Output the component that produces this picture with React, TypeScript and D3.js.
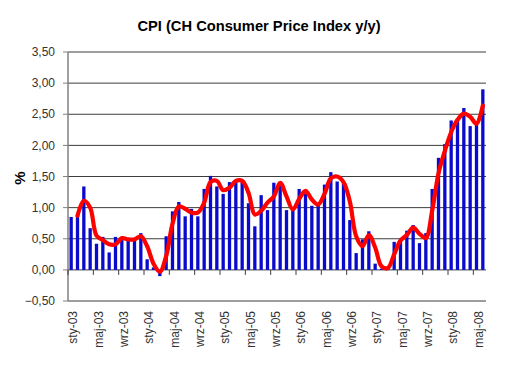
import React from "react";
import * as d3 from "d3";

const monthNames = ["sty", "lut", "mar", "kwi", "maj", "cze", "lip", "sie", "wrz", "paź", "lis", "gru"];
const years = ["03", "04", "05", "06", "07", "08"];
const monthCount = 66;

const cpiValues = [
  0.85, 0.88, 1.34, 0.67, 0.42, 0.53, 0.28, 0.53, 0.49, 0.49, 0.49, 0.59,
  0.17, 0.04, -0.10, 0.54, 0.94, 1.09, 0.86, 0.98, 0.86, 1.30, 1.51, 1.34,
  1.22, 1.41, 1.44, 1.41, 1.07, 0.70, 1.20, 0.96, 1.40, 1.39, 0.96, 0.97,
  1.30, 1.23, 1.03, 1.07, 1.37, 1.57, 1.42, 1.40, 0.80, 0.27, 0.49, 0.62,
  0.10, 0.02, 0.04, 0.45, 0.48, 0.63, 0.72, 0.43, 0.59, 1.30, 1.80, 2.02,
  2.40, 2.42, 2.60, 2.31, 2.38, 2.90,
];

// trend line (starts at the second month)
const trendValues = [
  0.87, 1.11, 1.00, 0.55, 0.48, 0.41, 0.41, 0.51, 0.49, 0.49, 0.54,
  0.38, 0.10, -0.03, 0.22, 0.74, 1.02, 0.98, 0.92, 0.92, 1.08, 1.41, 1.43,
  1.28, 1.32, 1.43, 1.43, 1.24, 0.89, 0.95, 1.08, 1.18, 1.40, 1.18, 0.97,
  1.14, 1.27, 1.13, 1.05, 1.22, 1.47, 1.50, 1.41, 1.10, 0.54, 0.38, 0.56,
  0.36, 0.06, 0.03, 0.25, 0.47, 0.56, 0.68, 0.58, 0.51, 0.95, 1.55, 1.91,
  2.21, 2.41, 2.51, 2.46, 2.35, 2.64,
];

const yTicks = [-0.5, 0, 0.5, 1, 1.5, 2, 2.5, 3, 3.5];

const categories: string[] = [];
for (const y of years) for (const m of monthNames) categories.push(`${m}-${y}`);
const cats = categories.slice(0, monthCount);

export default function App() {
  const W = 514, H = 368;
  const left = 68, right = 486, top = 52, bottom = 301;
  const x = d3.scaleBand<string>().domain(cats).range([left, right]).paddingInner(0.48).paddingOuter(0.24);
  const y = d3.scaleLinear().domain([-0.5, 3.5]).range([bottom, top]);
  const step = x.step();
  const bw = x.bandwidth();
  const cx = (c: string) => (x(c) as number) + bw / 2;
  const boundary = (c: string) => (x(c) as number) - (step - bw) / 2;
  const fmt = (v: number) => d3.format(".2f")(v).replace(".", ",");

  const line = d3
    .line<number>()
    .x((_, i) => cx(cats[i + 1]))
    .y((d) => y(d))
    .curve(d3.curveCatmullRom.alpha(0.5));

  const font = "'Liberation Sans', Arial, sans-serif";

  return (
    <svg width={W} height={H} style={{ position: "absolute", left: 0, top: 0, background: "#fff" }} fontFamily={font}>
      <rect x={0} y={0} width={W} height={H} fill="#fff" />
      <text x={259} y={31} textAnchor="middle" fontSize={14.7} fontWeight="bold" fill="#000">
        CPI (CH Consumer Price Index y/y)
      </text>
      {yTicks.map((t) => (
        <g key={t}>
          <line x1={left} x2={right} y1={y(t)} y2={y(t)} stroke="#3c3c3c" strokeWidth={1} />
          <line x1={left - 5} x2={left} y1={y(t)} y2={y(t)} stroke="#808080" strokeWidth={1} />
          <text x={55} y={y(t)} dy="0.35em" textAnchor="end" fontSize={12} fill="#333">
            {fmt(t)}
          </text>
        </g>
      ))}
      <line x1={left} x2={left} y1={top} y2={bottom} stroke="#808080" strokeWidth={1.5} />
      <text transform={`translate(20,178) rotate(-90)`} textAnchor="middle" dy="0.35em" fontSize={15} fontWeight="bold" fill="#000">
        %
      </text>
      {cats.map((c, i) => {
        const v = cpiValues[i];
        return (
          <rect
            key={c}
            x={x(c)}
            width={bw}
            y={Math.min(y(v), y(0))}
            height={Math.abs(y(v) - y(0))}
            fill="#0a0acc"
          />
        );
      })}
      {cats.map((c, i) =>
        i % 4 === 0 ? (
          <g key={"t" + c}>
            <line x1={boundary(c)} x2={boundary(c)} y1={y(0)} y2={y(0) + 5} stroke="#3c3c3c" />
            <text
              transform={`translate(${cx(c) + 2},311) rotate(-90)`}
              textAnchor="end"
              dy="0.35em"
              fontSize={12}
              fill="#333"
            >
              {c}
            </text>
          </g>
        ) : null
      )}
      <path d={line(trendValues) || ""} fill="none" stroke="#ff0000" strokeWidth={4.2} strokeLinejoin="round" strokeLinecap="round" />
    </svg>
  );
}
